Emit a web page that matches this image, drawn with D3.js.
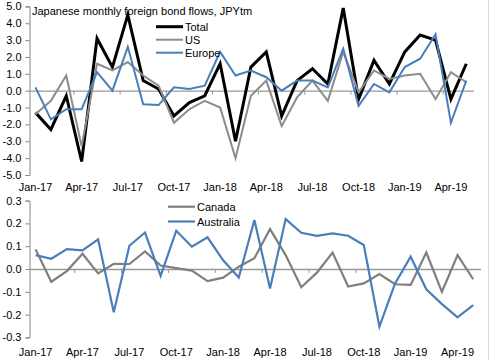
<!DOCTYPE html>
<html><head><meta charset="utf-8">
<script src="https://cdn.jsdelivr.net/npm/d3@7"></script>
<style>
body{margin:0;background:#fff}
.nar{font-family:"Liberation Sans Narrow","Arial Narrow","Liberation Sans",Arial,sans-serif;font-stretch:condensed}
.reg{font-family:"Liberation Sans",Arial,sans-serif}
</style>
</head><body>
<svg id="c" width="491" height="360"></svg>
<script>
// ---- data ----
const months = ["Jan-17","Feb-17","Mar-17","Apr-17","May-17","Jun-17","Jul-17","Aug-17","Sep-17","Oct-17","Nov-17","Dec-17",
  "Jan-18","Feb-18","Mar-18","Apr-18","May-18","Jun-18","Jul-18","Aug-18","Sep-18","Oct-18","Nov-18","Dec-18",
  "Jan-19","Feb-19","Mar-19","Apr-19","May-19"];
const labelMonths = ["Jan-17","Apr-17","Jul-17","Oct-17","Jan-18","Apr-18","Jul-18","Oct-18","Jan-19","Apr-19"];
const total  = [-1.3,-2.3,-0.3,-4.2,3.1,1.4,4.5,0.6,0.1,-1.5,-0.7,-0.3,1.6,-3.0,1.4,2.3,-1.5,0.6,1.3,0.4,4.9,-0.5,1.8,0.4,2.3,3.3,3.0,-0.5,1.6];
const us     = [-1.4,-0.6,0.9,-3.3,1.6,1.2,1.7,0.9,0.3,-1.9,-1.1,-0.6,-1.0,-4.0,-0.3,0.6,-2.1,-0.4,0.6,-0.6,2.3,-0.1,1.2,0.7,0.9,1.0,-0.5,1.1,0.5];
const europe = [0.2,-1.7,-1.1,-1.1,1.1,0.0,2.6,-0.8,-0.85,0.2,0.1,0.3,2.3,0.9,1.2,0.8,0.0,0.6,0.6,0.2,2.5,-0.9,0.4,-0.1,1.4,1.9,3.35,-1.9,0.6];
const canada    = [0.086,-0.056,-0.009,0.067,-0.019,0.023,0.022,0.077,0.015,0.004,-0.007,-0.053,-0.038,0.01,0.047,0.175,0.061,-0.08,-0.016,0.072,-0.077,-0.063,-0.022,-0.067,-0.07,0.072,-0.1,0.061,-0.045];
const australia = [0.061,0.045,0.087,0.082,0.13,-0.19,0.102,0.16,-0.03,0.168,0.098,0.139,0.038,-0.037,0.215,-0.086,0.219,0.159,0.145,0.156,0.146,0.105,-0.253,-0.063,0.054,-0.089,-0.154,-0.212,-0.158];
const topTicks = [5,4,3,2,1,0,-1,-2,-3,-4,-5];
const botTicks = [0.3,0.2,0.1,0,-0.1,-0.2,-0.3];
const title = "Japanese monthly foreign bond flows, JPYtm";

const svg = d3.select("#c");
svg.append("rect").attr("width",491).attr("height",360).attr("fill","#fff");

function panel(cfg){
  const g = svg.append("g");
  const x = d3.scaleBand().domain(months).range([cfg.x0, cfg.x1]);
  const y = d3.scaleLinear().domain(cfg.domain).range([cfg.yb, cfg.yt]);
  const cx = d => x(d) + x.bandwidth()/2;
  // y axis
  const ya = d3.axisLeft(y).tickValues(cfg.ticks).tickSize(4).tickPadding(4).tickFormat(d => d.toFixed(1));
  const ag = g.append("g").attr("transform",`translate(${cfg.ax},0)`).call(ya);
  ag.select(".domain").attr("stroke","#868686");
  ag.selectAll(".tick line").attr("stroke","#868686");
  ag.selectAll(".tick text").attr("class","reg").attr("font-size",11).attr("fill","#000");
  // zero line
  g.append("line").attr("x1",cfg.ax).attr("x2",cfg.x1).attr("y1",y(0)+0.5).attr("y2",y(0)+0.5)
    .attr("stroke","#999").attr("stroke-width",1.3);
  // tick marks every 3 categories at band boundaries
  const bnd = months.filter((m,i)=> i>0 && i%3===0);
  g.selectAll(".bt").data(bnd).enter().append("line")
    .attr("x1",d=>x(d)).attr("x2",d=>x(d)).attr("y1",y(0)).attr("y2",y(0)+4)
    .attr("stroke","#999").attr("stroke-width",1);
  // x labels
  g.selectAll(".xl").data(labelMonths).enter().append("text")
    .attr("class","nar").attr("font-size",11).attr("text-anchor","middle")
    .attr("x",d=>cx(d)).attr("y",cfg.labY).text(d=>d);
  // lines
  cfg.series.forEach(s=>{
    const line = d3.line().x((d,i)=>cx(months[i])).y(d=>y(d));
    g.append("path").datum(s.values).attr("d",line).attr("fill","none")
      .attr("stroke",s.color).attr("stroke-width",s.w).attr("stroke-linejoin","miter");
  });
  // legend
  cfg.series.forEach((s,i)=>{
    const ly = cfg.legY + i*cfg.legStep;
    g.append("line").attr("x1",cfg.legX).attr("x2",cfg.legX+27).attr("y1",ly).attr("y2",ly)
      .attr("stroke",s.color).attr("stroke-width",s.w);
    g.append("text").attr("class","nar").attr("font-size",11).attr("x",cfg.legX+29).attr("y",ly+4).text(s.name);
  });
}

panel({x0:27.8, x1:474, ax:29.5, domain:[-5,5], yb:175, yt:6.4, ticks:topTicks, labY:191,
  legX:156, legY:26.7, legStep:13,
  series:[{name:"Total",values:total,color:"#000",w:3},
          {name:"US",values:us,color:"#8c8c8c",w:2},
          {name:"Europe",values:europe,color:"#4a7ebb",w:2}]});

panel({x0:27.8, x1:481, ax:29.5, domain:[-0.3,0.3], yb:337.4, yt:200.6, ticks:botTicks, labY:355.5,
  legX:168, legY:206.7, legStep:14.8,
  series:[{name:"Canada",values:canada,color:"#7f7f7f",w:2.2},
          {name:"Australia",values:australia,color:"#4a7ebb",w:2.2}]});

svg.append("text").attr("class","nar").attr("font-size",11).attr("x",32).attr("y",15).text(title);
// right frame edge
svg.append("line").attr("x1",488.5).attr("x2",488.5).attr("y1",0).attr("y2",360).attr("stroke","#d9d9d9");
</script>
</body></html>
